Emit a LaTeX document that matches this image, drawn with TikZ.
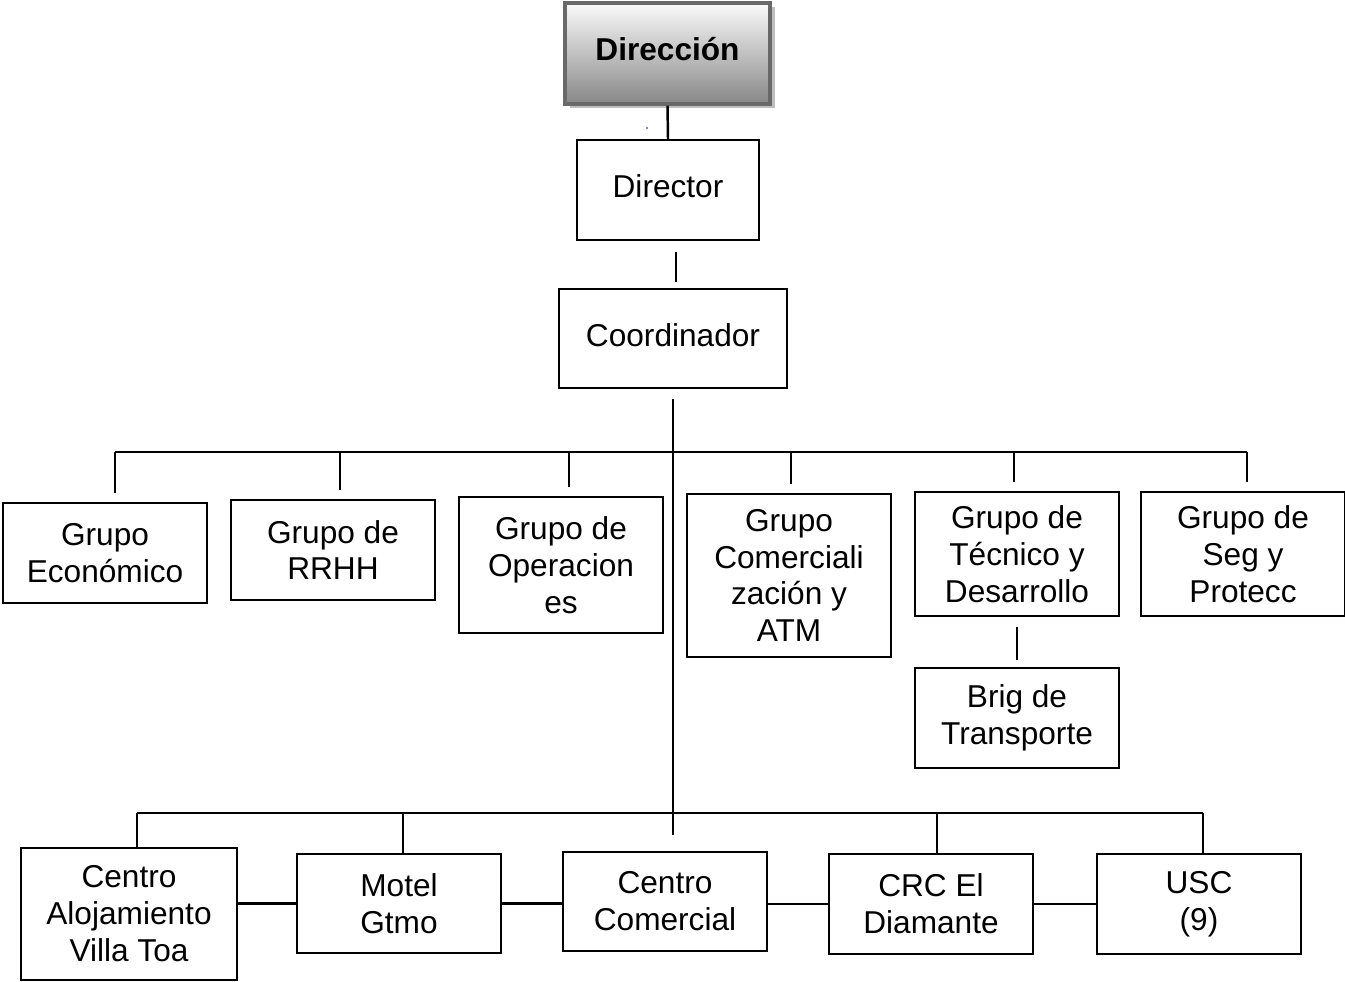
\documentclass[tikz,border=0pt]{standalone}
\usepackage{fontspec}
\setmainfont{Liberation Sans}
\usepackage{xcolor}
\definecolor{orgline}{RGB}{0,0,0}
\definecolor{orgtop}{RGB}{250,250,250}
\definecolor{orgbottom}{RGB}{135,135,135}
\definecolor{orgframe}{RGB}{105,105,105}
\definecolor{orgshadow}{RGB}{190,190,190}
\definecolor{orgdot}{RGB}{60,110,200}
\usetikzlibrary{positioning, calc, shadows}

\tikzset{
  box/.style={draw=orgline, line width=1.3pt, align=center, inner sep=0pt,
              font=\fontsize{18}{21}\selectfont},
  orgbox/.style 2 args={box, minimum width=#1*0.02cm, minimum height=#2*0.02cm},
  link/.style={draw=orgline, line width=1.4pt}
}

\begin{document}
\begin{tikzpicture}[x=0.02cm, y=-0.02cm]
  \useasboundingbox (0,0) rectangle (1345,982);

  % Head box
  \node[orgbox={205}{101}, draw=orgframe, line width=2pt, text depth=5pt,
        top color=orgtop, bottom color=orgbottom,
        drop shadow={shadow xshift=0.09cm, shadow yshift=-0.09cm, fill=orgshadow, opacity=1},
        font=\fontsize{18}{21}\selectfont\bfseries] (dir) at (667.5,53.5) {Dirección};
  \fill[orgdot] (647,128) circle (1.2);

  % Upper chain
  \node[orgbox={182}{100}, text depth=4pt] (director) at (668,190) {Director};
  \node[orgbox={228}{99}, text depth=4pt] (coord) at (673,338.5) {Coordinador};

  % Groups
  \node[orgbox={204}{100}] (eco)  at (105,553)   {Grupo\\Económico};
  \node[orgbox={204}{100}] (rrhh) at (333,550)   {Grupo de\\RRHH};
  \node[orgbox={204}{136}] (oper) at (561,565)   {Grupo de\\Operacion\\es};
  \node[orgbox={204}{163}] (com)  at (789,575.5) {Grupo\\Comerciali\\zación y\\ATM};
  \node[orgbox={204}{124}] (tec)  at (1017,554)  {Grupo de\\Técnico y\\Desarrollo};
  \node[orgbox={204}{124}] (seg)  at (1243,554)  {Grupo de\\Seg y\\Protecc};
  \node[orgbox={204}{100}] (brig) at (1017,718)  {Brig de\\Transporte};

  % Units
  \node[orgbox={216}{132}] (villa) at (129,914)   {Centro\\Alojamiento\\Villa Toa};
  \node[orgbox={204}{99}]  (motel) at (399,903.5) {Motel\\Gtmo};
  \node[orgbox={204}{99}]  (cc)    at (665,901.5) {Centro\\Comercial};
  \node[orgbox={204}{100}] (crc)   at (931,904)   {CRC El\\Diamante};
  \node[orgbox={204}{100}] (usc)   at (1199,904)  {USC\\(9)};

  % Junction points
  \coordinate (t1) at (115,452);
  \coordinate (t2) at (340,452);
  \coordinate (t3) at (569,452);
  \coordinate (t4) at (791,452);
  \coordinate (t5) at (1014,452);
  \coordinate (t6) at (1247,452);
  \coordinate (b1) at (137,813);
  \coordinate (b2) at (403,813);
  \coordinate (b3) at (937,813);
  \coordinate (b4) at (1203,813);
  \coordinate (spine) at (673,835);

  % Chain connectors
  \draw[link] (dir.south) -- (director.north);
  \draw[link] ([shift={(8,11)}]director.south) -- ([shift={(3,-6)}]coord.north);
  \draw[link] ([shift={(0,10)}]coord.south) -- (spine);

  % Group bus
  \draw[link] (t1) -- (t6);
  \foreach \t/\n in {t1/eco, t2/rrhh, t3/oper, t4/com, t5/tec, t6/seg}
    \draw[link, shorten >=5pt] (\t) -- (\t |- \n.north);
  \draw[link] ([shift={(0,10)}]tec.south) -- ([shift={(0,-7)}]brig.north);

  % Unit bus
  \draw[link] (b1) -- (b4);
  \foreach \b/\n in {b1/villa, b2/motel, b3/crc, b4/usc}
    \draw[link] (\b) -- (\b |- \n.north);
  \draw[link] (villa.east |- motel.west) -- (motel.west);
  \draw[link] (motel.east) -- (motel.east -| cc.west);
  \draw[link] (cc.east |- crc.west) -- (crc.west);
  \draw[link] (crc) -- (usc);
\end{tikzpicture}
\end{document}
